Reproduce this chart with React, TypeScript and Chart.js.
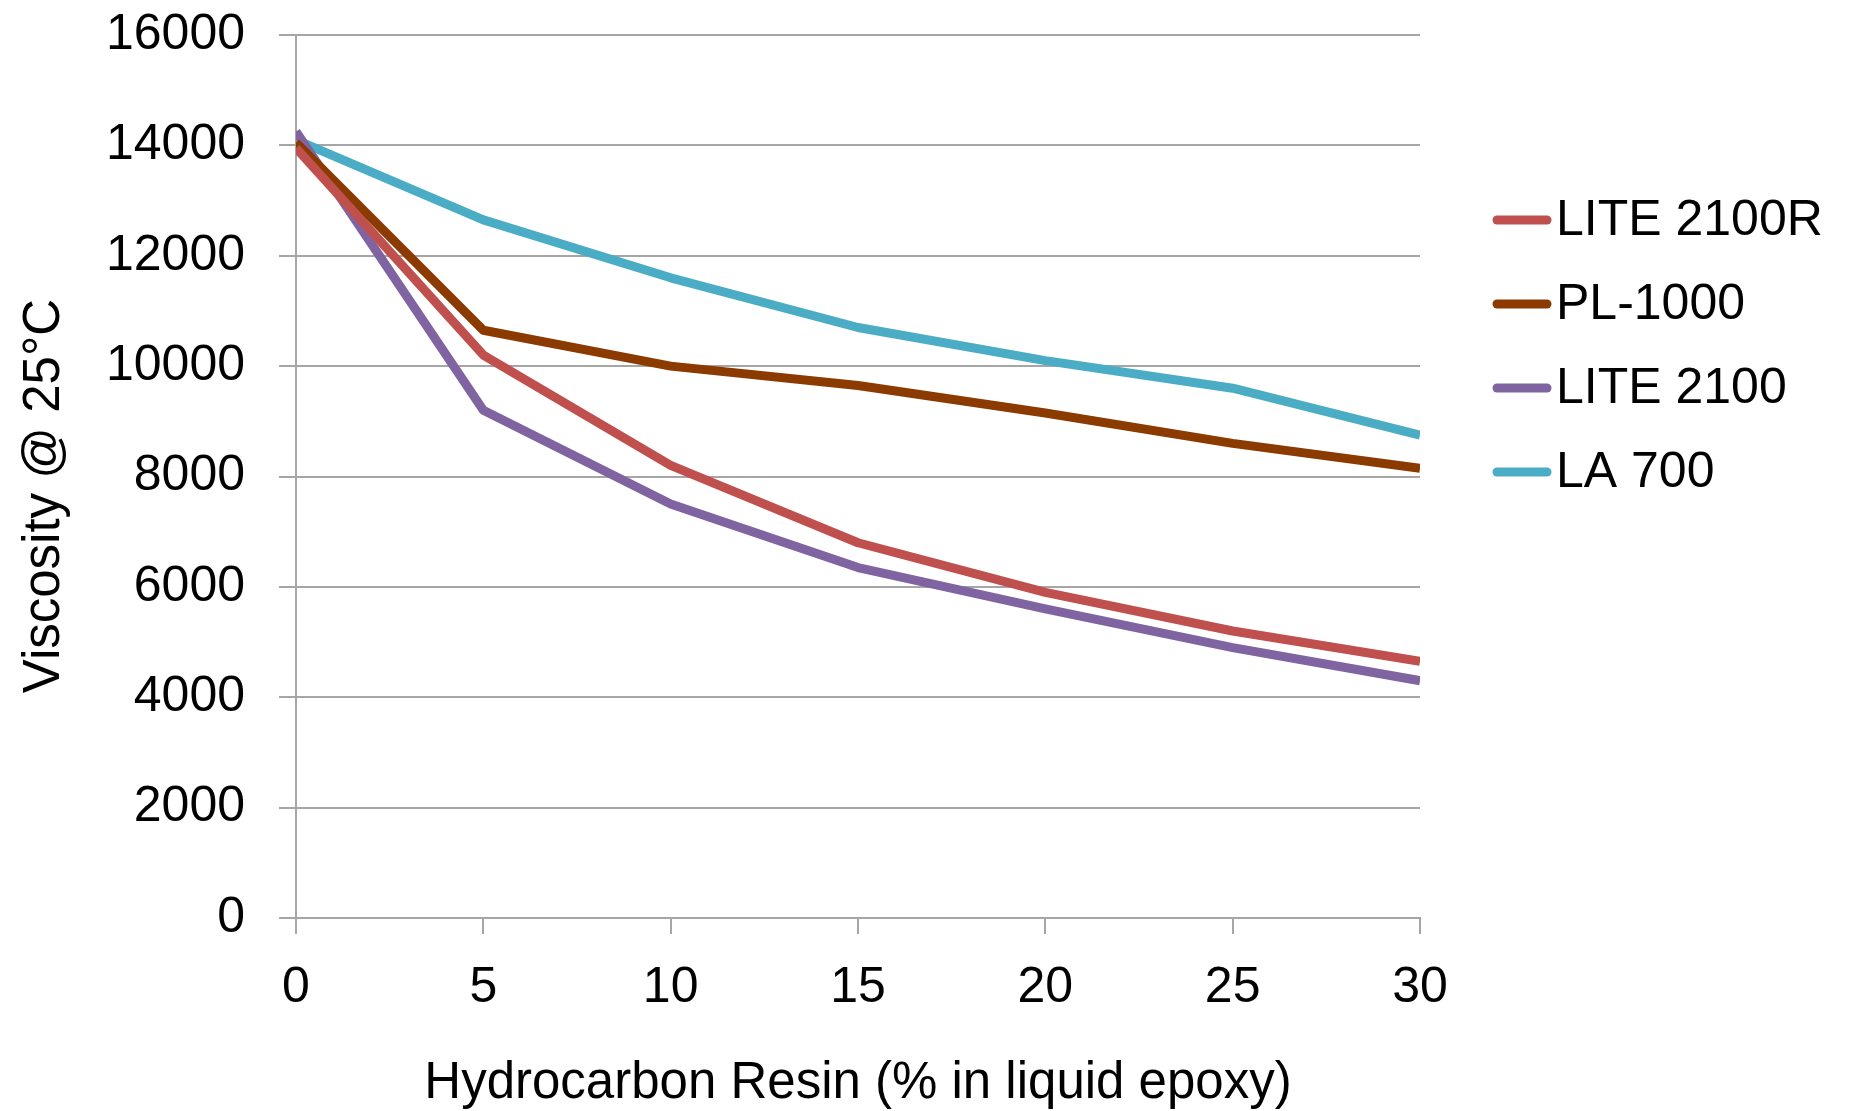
import React, { useEffect, useRef } from "react";
import { Chart, registerables } from "chart.js";

Chart.register(...registerables);

const resinPct = [0, 5, 10, 15, 20, 25, 30];
const lite2100R = [13950, 10200, 8200, 6800, 5900, 5200, 4650];
const pl1000 = [14050, 10650, 10000, 9650, 9150, 8600, 8150];
const lite2100 = [14250, 9200, 7500, 6350, 5600, 4900, 4300];
const la700 = [14100, 12650, 11600, 10700, 10100, 9600, 8750];

const seriesNames = ["LITE 2100R", "PL-1000", "LITE 2100", "LA 700"];
const seriesValues = [lite2100R, pl1000, lite2100, la700];
const seriesColors = ["#C0504D", "#8B3A00", "#8064A2", "#4BACC6"];

const xTitle = "Hydrocarbon Resin (% in liquid epoxy)";
const yTitle = "Viscosity @ 25°C";

const FONT = "'Liberation Sans', 'Helvetica Neue', Helvetica, Arial, sans-serif";
const GRID = "#A6A6A6";

export default function App() {
  const ref = useRef<HTMLCanvasElement | null>(null);

  useEffect(() => {
    if (!ref.current) return;

    const legendPlugin = {
      id: "customLegend",
      afterDraw(chart: any) {
        const ctx = chart.ctx;
        ctx.save();
        chart.data.datasets.forEach((ds: any, i: number) => {
          const y = 220 + i * 84;
          ctx.strokeStyle = ds.borderColor;
          ctx.lineWidth = 9;
          ctx.lineCap = "round";
          ctx.beginPath();
          ctx.moveTo(1497, y);
          ctx.lineTo(1547, y);
          ctx.stroke();
          ctx.fillStyle = "#000";
          ctx.font = `50px ${FONT}`;
          ctx.textAlign = "left";
          ctx.textBaseline = "middle";
          ctx.fillText(ds.label, 1556, y + 1);
        });
        // y-axis title
        ctx.translate(45, 496);
        ctx.rotate(-Math.PI / 2);
        ctx.font = `51px ${FONT}`;
        ctx.fillStyle = "#000";
        ctx.textAlign = "center";
        ctx.textBaseline = "middle";
        ctx.fillText(yTitle, 0, 0);
        ctx.restore();
      },
    };

    const chart = new Chart(ref.current, {
      type: "line",
      data: {
        datasets: seriesNames.map((name, i) => ({
          label: name,
          data: resinPct.map((x, j) => ({ x, y: seriesValues[i][j] })),
          borderColor: seriesColors[i],
          backgroundColor: seriesColors[i],
          borderWidth: 9,
          pointRadius: 0,
          pointHoverRadius: 0,
          tension: 0,
          borderJoinStyle: "round",
          borderCapStyle: "butt",
          fill: false,
        })),
      },
      options: {
        responsive: false,
        animation: false,
        events: [],
        layout: { padding: { top: 35, right: 432, left: 0, bottom: 0 } },
        plugins: {
          legend: { display: false },
          tooltip: { enabled: false },
        },
        scales: {
          x: {
            type: "linear",
            min: 0,
            max: 30,
            ticks: {
              stepSize: 5,
              color: "#000",
              font: { family: FONT, size: 50 },
              padding: 24,
              maxRotation: 0,
              callback: (v: any) => String(v),
            },
            grid: {
              drawOnChartArea: false,
              drawTicks: true,
              tickLength: 16,
              color: GRID,
              lineWidth: 2,
            },
            border: { display: true, color: GRID, width: 2 },
            title: {
              display: true,
              text: xTitle,
              color: "#000",
              font: { family: FONT, size: 51 },
              padding: { top: 0, bottom: -4 },
            },
            afterFit(scale: any) {
              scale.height = 193;
              scale.paddingLeft = 0;
              scale.paddingRight = 0;
            },
          },
          y: {
            type: "linear",
            min: 0,
            max: 16000,
            ticks: {
              stepSize: 2000,
              color: "#000",
              font: { family: FONT, size: 50 },
              padding: 34,
              callback: (v: any) => String(v),
            },
            grid: {
              drawTicks: true,
              tickLength: 17,
              color: GRID,
              lineWidth: 2,
            },
            border: { display: true, color: GRID, width: 2 },
            afterFit(scale: any) {
              scale.width = 296;
              scale.paddingTop = 0;
              scale.paddingBottom = 0;
            },
          },
        },
      },
      plugins: [legendPlugin],
    });

    return () => chart.destroy();
  }, []);

  return (
    <div style={{ position: "absolute", left: 0, top: 0, width: 1852, height: 1111, background: "#fff" }}>
      <canvas ref={ref} width={1852} height={1111} style={{ display: "block" }} />
    </div>
  );
}
